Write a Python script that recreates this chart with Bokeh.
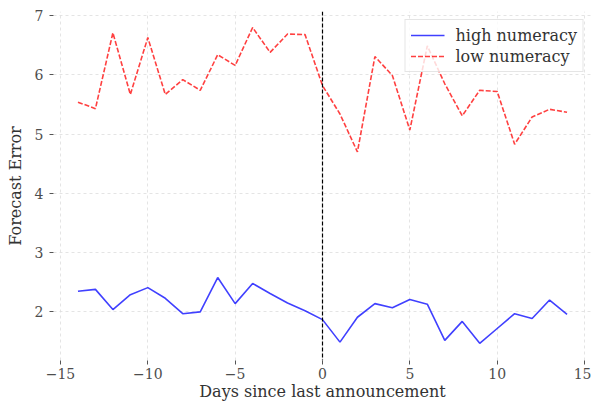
from bokeh.plotting import figure
from bokeh.models import Span, FixedTicker, Range1d, Legend, LegendItem
from bokeh.embed import file_html
from bokeh.resources import INLINE

days = list(range(-14, 15))
high_numeracy = [2.35, 2.38, 2.04, 2.29, 2.41, 2.23, 1.97, 2.00, 2.58, 2.14, 2.48,
                 2.31, 2.15, 2.02, 1.87, 1.49, 1.91, 2.14, 2.07, 2.21, 2.13, 1.52,
                 1.84, 1.47, 1.72, 1.97, 1.89, 2.20, 1.96]
low_numeracy = [5.54, 5.43, 6.71, 5.67, 6.63, 5.67, 5.92, 5.74, 6.34, 6.16, 6.80,
                6.38, 6.69, 6.68, 5.82, 5.34, 4.70, 6.31, 5.99, 5.07, 6.49, 5.85,
                5.31, 5.74, 5.72, 4.83, 5.29, 5.42, 5.37]
x_ticks = [-15, -10, -5, 0, 5, 10, 15]
y_ticks = [2, 3, 4, 5, 6, 7]
x_label = "Days since last announcement"
y_label = "Forecast Error"
series_names = ["high numeracy", "low numeracy"]

FONT = "DejaVu Serif"
FS_TICK = "14px"
FS_LABEL = "16px"

p = figure(width=591, height=404, output_backend="svg", toolbar_location=None,
           x_range=Range1d(-15.4, 15.4), y_range=Range1d(1.18, 7.07),
           min_border_left=53, min_border_right=0, min_border_top=11,
           min_border_bottom=44)
p.outline_line_color = None
p.background_fill_color = "white"
p.border_fill_color = "white"

r_high = p.line(days, high_numeracy, line_color="#0000ff", line_alpha=0.75, line_width=1.6)
r_low = p.line(days, low_numeracy, line_color="#ff0000", line_alpha=0.75, line_width=1.6,
               line_dash="5 2")

p.add_layout(Span(location=0, dimension="height", line_color="black",
                  line_dash="4 2", line_width=1.2))

for ax, ticks in ((p.xaxis, x_ticks), (p.yaxis, y_ticks)):
    ax.ticker = FixedTicker(ticks=ticks)
    ax.axis_line_color = None
    ax.major_tick_line_color = "#555555"
    ax.major_tick_in = 0
    ax.major_tick_out = 4
    ax.minor_tick_line_color = None
    ax.major_label_text_font = FONT
    ax.major_label_text_font_size = FS_TICK
    ax.major_label_text_color = "#4d4d4d"
    ax.axis_label_text_font = FONT
    ax.axis_label_text_font_size = FS_LABEL
    ax.axis_label_text_color = "#333333"
    ax.axis_label_text_font_style = "normal"

p.xaxis.major_label_overrides = {t: ("\u2212" + str(-t) if t < 0 else str(t)) for t in x_ticks}
p.xaxis.axis_label = x_label
p.yaxis.axis_label = y_label
p.xaxis.major_label_standoff = 3
p.xaxis.axis_label_standoff = 0
p.yaxis.major_label_standoff = 6
p.yaxis.axis_label_standoff = 7

for g in (p.xgrid, p.ygrid):
    g.grid_line_color = "#dddddd"
    g.grid_line_dash = "3 3"
    g.grid_line_width = 0.8
p.xgrid.ticker = FixedTicker(ticks=x_ticks)
p.ygrid.ticker = FixedTicker(ticks=y_ticks)

legend = Legend(items=[LegendItem(label=series_names[0], renderers=[r_high]),
                       LegendItem(label=series_names[1], renderers=[r_low])],
                location="top_right")
legend.margin = 8
legend.padding = 5
legend.spacing = 1
legend.glyph_width = 34
legend.label_standoff = 11
legend.label_text_font = FONT
legend.label_text_font_size = FS_LABEL
legend.label_text_color = "#333333"
legend.border_line_color = "#cccccc"
legend.background_fill_alpha = 0.8
p.add_layout(legend)

open("out.html", "w").write(file_html(p, INLINE))
